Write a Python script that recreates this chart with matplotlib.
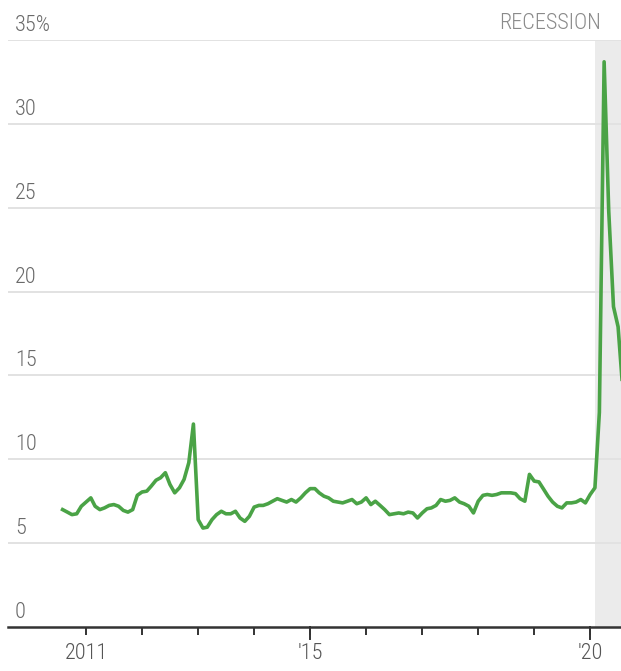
import numpy as np
import pandas as pd
import matplotlib
matplotlib.use('Agg')
import matplotlib.pyplot as plt
from matplotlib import font_manager

# personal saving rate, monthly, Aug 2010 - Aug 2020 (percent)
start = '2010-08-01'
rate = [
    7.0, 6.85, 6.7, 6.75, 7.2,                                          # 2010
    7.45, 7.7, 7.2, 7.0, 7.1, 7.25, 7.3, 7.2, 6.95, 6.85, 7.0, 7.85,     # 2011
    8.05, 8.1, 8.4, 8.75, 8.9, 9.2, 8.5, 8.0, 8.3, 8.8, 9.8, 12.1,       # 2012
    6.4, 5.9, 5.95, 6.4, 6.7, 6.9, 6.75, 6.75, 6.9, 6.5, 6.3, 6.6,       # 2013
    7.15, 7.25, 7.25, 7.35, 7.5, 7.65, 7.55, 7.45, 7.6, 7.45, 7.7, 8.0,  # 2014
    8.25, 8.25, 8.0, 7.8, 7.7, 7.5, 7.45, 7.4, 7.5, 7.6, 7.35, 7.45,     # 2015
    7.7, 7.3, 7.5, 7.25, 7.0, 6.7, 6.75, 6.8, 6.75, 6.85, 6.8, 6.5,      # 2016
    6.8, 7.05, 7.1, 7.25, 7.6, 7.5, 7.55, 7.7, 7.45, 7.35, 7.2, 6.8,     # 2017
    7.5, 7.85, 7.9, 7.85, 7.9, 8.0, 8.0, 8.0, 7.95, 7.65, 7.5, 9.1,      # 2018
    8.7, 8.65, 8.25, 7.8, 7.45, 7.2, 7.1, 7.4, 7.4, 7.45, 7.6, 7.4,      # 2019
    7.9, 8.3, 12.8, 33.7, 24.8, 19.1, 17.9, 14.1,                        # 2020
]
months = pd.date_range(start, periods=len(rate), freq='MS')

recession_start = '2020-02-01'
recession_end = '2020-12-31'

y_ticks = [0, 5, 10, 15, 20, 25, 30, 35]
y_labels = ['0', '5', '10', '15', '20', '25', '30', '35%']
x_years = list(range(2011, 2021))
x_labels = {2011: '2011', 2015: "'15", 2020: "'20"}

names = {f.name for f in font_manager.fontManager.ttflist}
family = [f for f in ['Liberation Sans Narrow', 'Roboto Condensed', 'Roboto', 'DejaVu Sans'] if f in names]
plt.rcParams['font.family'] = family
plt.rcParams['font.weight'] = 'light'

fig = plt.figure(figsize=(6.21, 6.71), dpi=100)
ax = fig.add_axes([8 / 621, 44 / 671, 613 / 621, 587 / 671])

ax.axvspan(pd.Timestamp(recession_start), pd.Timestamp(recession_end),
           color='#ebebeb', lw=0, zorder=0)
for v in y_ticks[1:]:
    ax.axhline(v, color='#e2e2e2', lw=1.4, zorder=1)

ax.plot(months, rate, color='#4aa346', lw=2.6, solid_joinstyle='round', zorder=3)

ax.set_ylim(0, 35)
ax.set_xlim(pd.Timestamp('2009-08-10'), pd.Timestamp('2020-07-20'))

for v, lab in zip(y_ticks, y_labels):
    ax.annotate(lab, xy=(0, v), xycoords=('axes fraction', 'data'),
                xytext=(7, 4), textcoords='offset pixels',
                ha='left', va='bottom', fontsize=16, color='#6a6a6a')

ax.annotate('RECESSION', xy=(pd.Timestamp('2020-02-01'), 35), xycoords='data',
            xytext=(6, 6), textcoords='offset pixels',
            ha='right', va='bottom', fontsize=16, color='#8a8a8a')

for s in ['top', 'right', 'left']:
    ax.spines[s].set_visible(False)
ax.spines['bottom'].set_color('#333333')
ax.spines['bottom'].set_linewidth(1.8)
ax.spines['bottom'].set_zorder(4)
ax.set_yticks([])

ticks = [pd.Timestamp(f'{y}-01-01') for y in x_years]
ax.set_xticks(ticks)
ax.set_xticklabels([''] * len(ticks))
ax.tick_params(axis='x', length=6, width=1.4, color='#333333')
for y, t in zip(x_years, ticks):
    if y in (2015, 2020):
        ax.plot([t, t], [0, -0.7], color='#333333', lw=1.4, clip_on=False, zorder=4)
    if y in x_labels:
        ax.annotate(x_labels[y], xy=(t, 0), xycoords='data',
                    xytext=(0, -16), textcoords='offset pixels',
                    ha='center', va='top', fontsize=16, color='#555555')

fig.savefig('out.png', dpi=100)
